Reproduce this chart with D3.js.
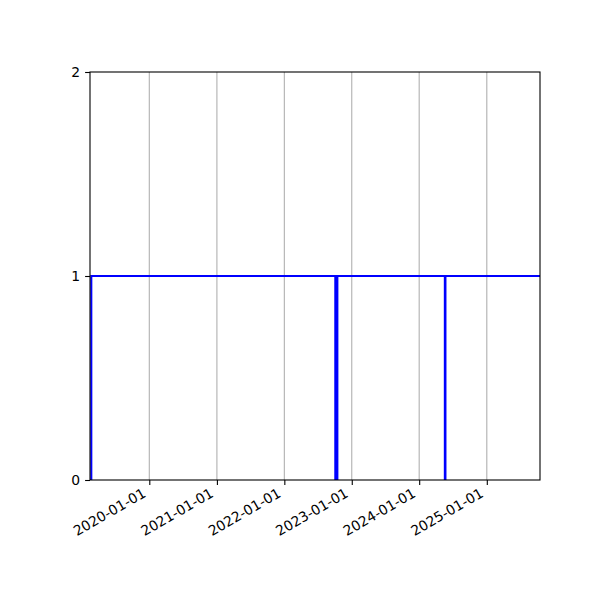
<!DOCTYPE html>
<html>
<head>
<meta charset="utf-8">
<script src="https://cdn.jsdelivr.net/npm/d3@7"></script>
<style>
  body { margin: 0; background: #fff; }
  text { font-family: "DejaVu Sans", sans-serif; font-size: 13.9px; fill: #000; }
</style>
</head>
<body>
<svg width="600" height="600"></svg>
<script>
// step points of the series (value holds until next date)
const dates = ["2019-02-14", "2019-02-21", "2022-10-04", "2022-10-15", "2024-05-19", "2024-05-22", "2025-10-16"];
const values = [0, 1, 0, 1, 0, 1, 1];

// tick labels
const xTickLabels = ["2020-01-01", "2021-01-01", "2022-01-01", "2023-01-01", "2024-01-01", "2025-01-01"];
const yTicks = [0, 1, 2];

const parse = d3.utcParse("%Y-%m-%d");
const data = dates.map((d, i) => ({ date: parse(d), value: values[i] }));

const svg = d3.select("svg");
const margin = { top: 72, right: 60, bottom: 120, left: 90 };
const innerWidth = 600 - margin.left - margin.right;
const innerHeight = 600 - margin.top - margin.bottom;

const xScale = d3.scaleUtc()
  .domain(d3.extent(data, d => d.date))
  .range([0, innerWidth]);

const yScale = d3.scaleLinear()
  .domain([0, 2])
  .range([innerHeight, 0]);

const g = svg.append("g")
  .attr("transform", `translate(${margin.left},${margin.top})`);

// vertical grid lines
g.append("g")
  .selectAll("line")
  .data(xTickLabels.map(parse))
  .enter()
  .append("line")
  .attr("x1", d => xScale(d))
  .attr("x2", d => xScale(d))
  .attr("y1", 0)
  .attr("y2", innerHeight)
  .attr("stroke", "#b0b0b0")
  .attr("stroke-width", 1.1);

// clip the line to the axes box like matplotlib does
svg.append("defs").append("clipPath")
  .attr("id", "clip")
  .append("rect")
  .attr("width", innerWidth)
  .attr("height", innerHeight);

const line = d3.line()
  .x(d => xScale(d.date))
  .y(d => yScale(d.value))
  .curve(d3.curveStepAfter);

g.append("path")
  .datum(data)
  .attr("clip-path", "url(#clip)")
  .attr("fill", "none")
  .attr("stroke", "#0000ff")
  .attr("stroke-width", 2.1)
  .attr("d", line);

// x axis with rotated date labels (baseline end sits just left of the tick)
const xAxisG = g.append("g")
  .attr("transform", `translate(0,${innerHeight})`)
  .call(d3.axisBottom(xScale)
    .tickValues(xTickLabels.map(parse))
    .tickFormat(d3.utcFormat("%Y-%m-%d"))
    .tickSize(4.9)
    .tickSizeOuter(0));

xAxisG.select(".domain").remove();
xAxisG.selectAll(".tick line").attr("stroke-width", 1.1);
xAxisG.selectAll(".tick text")
  .attr("x", 0)
  .attr("y", 0)
  .attr("dy", 0)
  .attr("text-anchor", "end")
  .attr("transform", "translate(-3,16) rotate(-30)");

// y axis
const yAxisG = g.append("g")
  .call(d3.axisLeft(yScale)
    .tickValues(yTicks)
    .tickFormat(d3.format("d"))
    .tickSize(4.9)
    .tickPadding(4.9)
    .tickSizeOuter(0));

yAxisG.select(".domain").remove();
yAxisG.selectAll(".tick line").attr("stroke-width", 1.1);

// axes frame
g.append("rect")
  .attr("width", innerWidth)
  .attr("height", innerHeight)
  .attr("fill", "none")
  .attr("stroke", "#000")
  .attr("stroke-width", 1.1);
</script>
</body>
</html>
